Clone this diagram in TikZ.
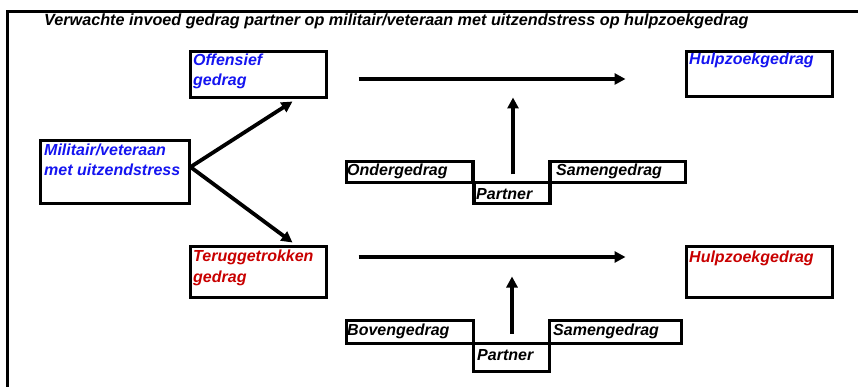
\documentclass[tikz,border=0pt]{standalone}
\usepackage{fontspec}
\setmainfont{Liberation Sans}
\usetikzlibrary{arrows.meta,calc}
\definecolor{tblue}{RGB}{20,20,240}
\definecolor{tred}{RGB}{200,0,0}
\tikzset{
  box/.style={draw, line width=3.3pt, inner sep=0pt, outer sep=0pt, rectangle},
  lbl/.style={anchor=base west, inner sep=0pt, align=left},
  arr/.style={line width=3.8pt, -{Triangle[length=11pt,width=11pt]}},
  bodyfont/.style={font=\fontsize{16}{20.5}\selectfont\bfseries\itshape}
}
\begin{document}
\begin{tikzpicture}[x=1pt,y=-1pt,bodyfont]
\useasboundingbox (0,0) rectangle (858,387);
% frame
\draw[line width=3.3pt] (7.5,387) -- (7.5,11.5) -- (858,11.5);
% title
\node[lbl, font=\fontsize{16.2}{20}\selectfont\bfseries\itshape] (title) at (44,26)
  {Verwachte invoed gedrag partner op militair/veteraan met uitzendstress op hulpzoekgedrag};
% main boxes
\node[box, minimum width=136pt, minimum height=46pt] (off) at (258.5,74.5) {};
\node[box, minimum width=149pt, minimum height=63pt] (mil) at (115,172) {};
\node[box, minimum width=146pt, minimum height=45pt] (hulpA) at (759.5,74) {};
\node[box, minimum width=136pt, minimum height=51pt] (ter) at (258.5,272) {};
\node[box, minimum width=146pt, minimum height=51pt] (hulpB) at (759.5,272) {};
% partner groups (top)
\node[box, minimum width=126.5pt, minimum height=21pt] (onder) at (409.75,172) {};
\node[box, minimum width=76pt, minimum height=21pt] (partA) at (512,193) {};
\node[box, minimum width=135.5pt, minimum height=21pt] (samenA) at (617.75,172) {};
% partner groups (bottom)
\node[box, minimum width=127pt, minimum height=23pt] (boven) at (410,332) {};
\node[box, minimum width=76pt, minimum height=28pt] (partB) at (511.5,357.5) {};
\node[box, minimum width=132pt, minimum height=23pt] (samenB) at (615.5,332) {};
% texts (multi-line nodes: base anchor = last line)
\node[lbl, text=tblue] (offT) at (193,86) {Offensief\\gedrag};
\node[lbl, text=tblue] (milT) at (44,176) {Militair/veteraan\\met uitzendstress};
\node[lbl, text=tblue] (hulpAT) at (689,65) {Hulpzoekgedrag};
\node[lbl, text=tred] (terT) at (193,282) {Teruggetrokken\\gedrag};
\node[lbl, text=tred] (hulpBT) at (689,262) {Hulpzoekgedrag};
\node[lbl] (onderT) at (347,176) {Ondergedrag};
\node[lbl] (samenAT) at (556,176) {Samengedrag};
\node[lbl] (partAT) at (476,200) {Partner};
\node[lbl] (bovenT) at (347,335) {Bovengedrag};
\node[lbl] (samenBT) at (553,335) {Samengedrag};
\node[lbl] (partBT) at (477,360) {Partner};
% connectors
\coordinate (fork) at ($(mil.east)+(1,-5)$);
\draw[arr] (fork) -- ($(off.south)+(34,4)$);
\draw[arr] (fork) -- ($(ter.north)+(34,-4)$);
\draw[arr] ($(off.east)+(32,4.5)$) -- ($(hulpA.west)+(-61,5)$);
\draw[arr] ($(ter.east)+(32,-15)$) -- ($(hulpB.west)+(-61,-15)$);
\draw[arr] ($(partA.north)+(1,-8)$) -- ($(partA.north)+(1,-85)$);
\draw[arr] ($(partB.north)+(0.5,-10)$) -- ($(partB.north)+(0.5,-67)$);
\end{tikzpicture}
\end{document}
